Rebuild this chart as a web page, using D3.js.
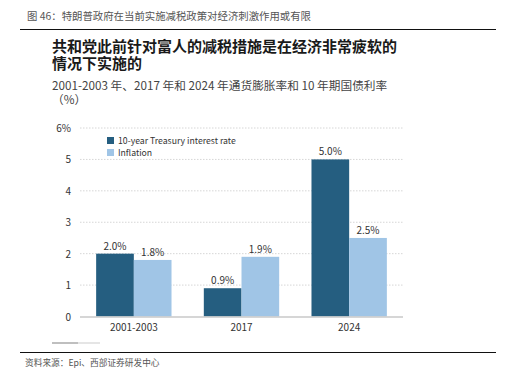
<!DOCTYPE html>
<html>
<head>
<meta charset="utf-8">
<script src="https://cdn.jsdelivr.net/npm/d3@7"></script>
<style>
  body { margin: 0; background: #fff; }
  text { font-family: "Noto Sans CJK SC", "Noto Sans", sans-serif; }
</style>
</head>
<body>
<div id="d3-container"></div>
<script>
/**
 * DATA
 * */
const categories = ["2001-2003", "2017", "2024"];
const series = ["10-year Treasury interest rate", "Inflation"];
const treasury = [2.0, 0.9, 5.0];
const inflation = [1.8, 1.9, 2.5];
const yTicks = [0, 1, 2, 3, 4, 5, 6];

/**
 * CONSTANTS
 * */
const width = 517,
  height = 374,
  margin = { top: 128, bottom: 57, left: 80, right: 114 };

const colors = ["#255e80", "#a0c5e6"];

const svg = d3.select("#d3-container")
  .append("svg")
  .attr("width", width)
  .attr("height", height);

// header
svg.append("text")
  .attr("x", 27).attr("y", 20)
  .attr("font-size", 10.4).attr("fill", "#555")
  .text("图 46：特朗普政府在当前实施减税政策对经济刺激作用或有限");

svg.append("line")
  .attr("x1", 20).attr("x2", 496).attr("y1", 29.5).attr("y2", 29.5)
  .attr("stroke", "#111").attr("stroke-width", 1.2);

// titles
const titleLines = ["共和党此前针对富人的减税措施是在经济非常疲软的", "情况下实施的"];
svg.selectAll("text.title")
  .data(titleLines)
  .join("text")
  .attr("class", "title")
  .attr("x", 52)
  .attr("y", (d, i) => 52 + i * 17)
  .attr("font-size", 15)
  .attr("font-weight", "bold")
  .attr("fill", "#1a1a1a")
  .text(d => d);

svg.append("text")
  .attr("x", 52).attr("y", 90)
  .attr("font-size", 11.7).attr("fill", "#444")
  .text("2001-2003 年、2017 年和 2024 年通货膨胀率和 10 年期国债利率");
svg.append("text")
  .attr("x", 52).attr("y", 104)
  .attr("font-size", 11.7).attr("fill", "#444")
  .text("（%）");

// scales
const y = d3.scaleLinear()
  .domain([0, 6])
  .range([height - margin.bottom - 0.5, margin.top]);

const x0 = d3.scaleBand()
  .domain(categories)
  .range([margin.left, width - margin.right])
  .paddingInner(0.3)
  .paddingOuter(0.15);

const x1 = d3.scaleBand()
  .domain(series)
  .range([0, x0.bandwidth()]);

// gridlines
svg.append("g")
  .selectAll("line")
  .data(yTicks.filter(d => d > 0))
  .join("line")
  .attr("x1", margin.left)
  .attr("x2", width - margin.right)
  .attr("y1", d => y(d))
  .attr("y2", d => y(d))
  .attr("stroke", "#d6d6d6")
  .attr("stroke-width", 1)
  .attr("stroke-dasharray", "1.5,1.5");

// y axis labels
svg.append("g")
  .selectAll("text")
  .data(yTicks)
  .join("text")
  .attr("x", 71)
  .attr("y", d => y(d) + 4)
  .attr("text-anchor", "end")
  .attr("font-size", 10)
  .attr("fill", "#333")
  .attr("font-family", "Lato, sans-serif")
  .text(d => d === 6 ? "6%" : d);

// bars
const rows = categories.map((c, i) => ({ cat: c, values: [treasury[i], inflation[i]] }));

const group = svg.append("g")
  .selectAll("g")
  .data(rows)
  .join("g")
  .attr("transform", d => `translate(${x0(d.cat)},0)`);

group.selectAll("rect")
  .data(d => d.values.map((v, j) => ({ key: series[j], v, j })))
  .join("rect")
  .attr("x", d => x1(d.key))
  .attr("width", x1.bandwidth())
  .attr("y", d => y(d.v))
  .attr("height", d => y(0) - y(d.v))
  .attr("fill", d => colors[d.j]);

group.selectAll("text")
  .data(d => d.values.map((v, j) => ({ key: series[j], v, j })))
  .join("text")
  .attr("x", d => x1(d.key) + x1.bandwidth() / 2)
  .attr("y", d => y(d.v) - 4)
  .attr("text-anchor", "middle")
  .attr("font-size", 10)
  .attr("fill", "#333")
  .attr("font-family", "Lato, sans-serif")
  .text(d => d.v.toFixed(1) + "%");

// baseline
svg.append("line")
  .attr("x1", margin.left).attr("x2", width - margin.right)
  .attr("y1", y(0) + 0.5).attr("y2", y(0) + 0.5)
  .attr("stroke", "#c8c8c8").attr("stroke-width", 1.5);

// category labels
svg.append("g")
  .selectAll("text")
  .data(categories)
  .join("text")
  .attr("x", d => x0(d) + x0.bandwidth() / 2)
  .attr("y", y(0) + 14)
  .attr("text-anchor", "middle")
  .attr("font-size", 10)
  .attr("fill", "#333")
  .attr("font-family", "Lato, sans-serif")
  .text(d => d);

// legend
const legend = svg.append("g")
  .selectAll("g")
  .data(series)
  .join("g")
  .attr("transform", (d, i) => `translate(107,${137 + i * 12})`);

legend.append("rect")
  .attr("width", 7).attr("height", 7)
  .attr("fill", (d, i) => colors[i]);

legend.append("text")
  .attr("x", 11).attr("y", 7)
  .attr("font-size", 8.7)
  .attr("fill", "#333")
  .attr("font-family", "Lato, sans-serif")
  .text(d => d);

// small scrollbar remnant
svg.append("line")
  .attr("x1", 52).attr("x2", 78).attr("y1", 343).attr("y2", 343)
  .attr("stroke", "#aaa").attr("stroke-width", 1.5);
svg.append("line")
  .attr("x1", 78).attr("x2", 100).attr("y1", 343).attr("y2", 343)
  .attr("stroke", "#ddd").attr("stroke-width", 1.5);

// footer
svg.append("line")
  .attr("x1", 20).attr("x2", 496).attr("y1", 352.5).attr("y2", 352.5)
  .attr("stroke", "#111").attr("stroke-width", 1.2);

svg.append("text")
  .attr("x", 25).attr("y", 366)
  .attr("font-size", 8.7).attr("fill", "#555")
  .text("资料来源：Epi、西部证券研发中心");
</script>
</body>
</html>
